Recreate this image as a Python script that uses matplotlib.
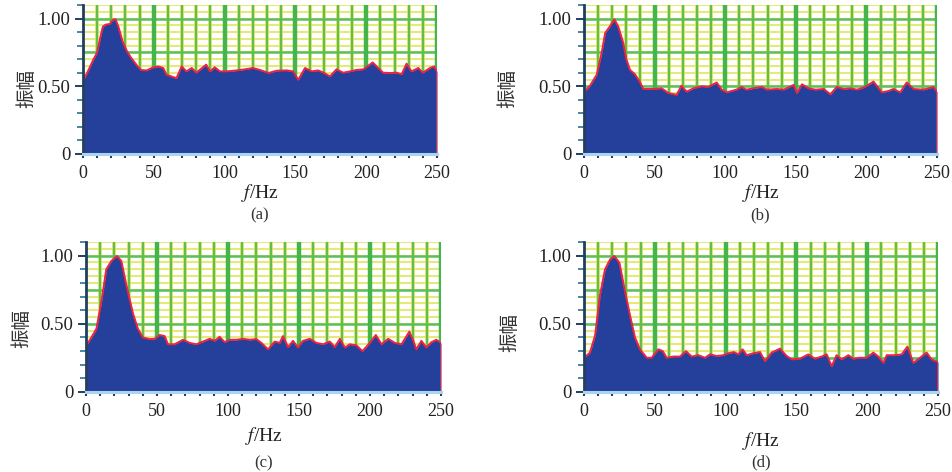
import numpy as np
import matplotlib
matplotlib.use("Agg")
import matplotlib.pyplot as plt
from matplotlib.ticker import MultipleLocator, FixedLocator

plt.rcParams['font.family'] = ['Liberation Serif', 'Noto Sans CJK SC', 'DejaVu Sans']
plt.rcParams['mathtext.fontset'] = 'stix'

# ---------------- data ----------------
freq_a = [0, 3, 7, 10, 12, 14, 16, 19, 21, 23, 25, 28, 31, 34, 38, 41, 45, 48.5, 53, 56.7,
          59, 66, 69.7, 73, 76.8, 80, 87, 89.7, 93, 96.7, 101.5, 108.5, 114.4, 120, 126,
          131, 136.8, 143.8, 148.5, 152, 156.8, 161.5, 166, 170, 174.4, 179, 183.8, 188.6,
          193, 198, 204.6, 208.5, 212, 216.8, 221.5, 225, 228.5, 232, 236.8, 240, 245, 248, 250]
amp_a = [0.54, 0.60, 0.69, 0.75, 0.85, 0.94, 0.955, 0.96, 0.99, 0.995, 0.94, 0.83, 0.76,
         0.71, 0.655, 0.62, 0.617, 0.635, 0.647, 0.635, 0.585, 0.56, 0.647, 0.61, 0.635,
         0.60, 0.66, 0.61, 0.64, 0.61, 0.61, 0.617, 0.625, 0.635, 0.617, 0.598, 0.615,
         0.617, 0.61, 0.548, 0.635, 0.61, 0.617, 0.60, 0.573, 0.625, 0.60, 0.61, 0.62,
         0.625, 0.676, 0.635, 0.60, 0.598, 0.60, 0.588, 0.667, 0.61, 0.635, 0.60, 0.635,
         0.647, 0.61]

freq_b = [0, 4, 9, 12.5, 15, 18.4, 21.5, 24.3, 27.8, 30, 32.6, 36, 39.7, 42, 49, 55, 59.7,
          65.6, 69, 72.7, 77.5, 83.4, 88, 94, 97.5, 101, 108, 111.6, 115, 120, 126, 129.5,
          136.6, 141.4, 148.5, 150.8, 154.4, 159, 164, 169.8, 174.5, 179, 184, 188.7,
          193.4, 199, 205, 211, 215.6, 219, 224, 228.5, 233.5, 240.5, 247.4, 250]
amp_b = [0.46, 0.50, 0.585, 0.746, 0.894, 0.943, 0.995, 0.94, 0.82, 0.70, 0.62, 0.59,
         0.53, 0.48, 0.48, 0.485, 0.45, 0.437, 0.504, 0.46, 0.485, 0.50, 0.495, 0.528,
         0.475, 0.455, 0.475, 0.495, 0.475, 0.485, 0.495, 0.475, 0.48, 0.475, 0.51, 0.45,
         0.515, 0.485, 0.475, 0.48, 0.44, 0.495, 0.48, 0.485, 0.475, 0.495, 0.535, 0.455,
         0.465, 0.48, 0.455, 0.528, 0.48, 0.475, 0.495, 0.46]

freq_c = [0, 3.8, 7.3, 10.8, 14.3, 17.8, 21.8, 24.9, 28.4, 33.1, 36.6, 40.1, 44.8, 48.4,
          51.9, 55.4, 57.7, 62.4, 68.3, 73, 77.7, 82.4, 87.1, 90.6, 94.1, 97.7, 101.2,
          105.9, 110.6, 115.3, 120, 123.5, 128.2, 132.9, 136.4, 138.7, 142.3, 145.8, 149.3,
          152.8, 157.6, 162.3, 167, 171.7, 175.2, 178.8, 182.3, 185.8, 190.5, 194.7, 199.9,
          204.1, 208.1, 212.8, 217.5, 222.2, 227.7, 230.3, 232.6, 236.2, 239.7, 243.2,
          246.7, 250]
amp_c = [0.338, 0.40, 0.463, 0.66, 0.90, 0.96, 0.998, 0.96, 0.786, 0.575, 0.463, 0.40,
         0.388, 0.39, 0.418, 0.41, 0.35, 0.35, 0.383, 0.36, 0.35, 0.37, 0.39, 0.375, 0.405,
         0.365, 0.383, 0.383, 0.39, 0.383, 0.388, 0.36, 0.313, 0.37, 0.36, 0.41, 0.33,
         0.375, 0.326, 0.375, 0.39, 0.36, 0.35, 0.37, 0.33, 0.39, 0.326, 0.35, 0.342, 0.30,
         0.36, 0.418, 0.35, 0.39, 0.36, 0.35, 0.443, 0.383, 0.313, 0.375, 0.326, 0.365,
         0.383, 0.36]

freq_d = [0, 4.2, 7.8, 11.3, 14.8, 18.4, 21.4, 25, 29, 32.5, 36, 39.5, 44.3, 47.8, 52.5,
          55.6, 58.4, 63.1, 67.8, 72, 76, 80.7, 85.5, 89, 93.7, 98.4, 101.9, 105.9, 109,
          112, 114.9, 119.6, 124.3, 127.8, 132.5, 138.4, 143.1, 146.7, 152.5, 158.4, 163.1,
          167.8, 171.4, 174.9, 178.4, 181.9, 186.7, 190.2, 194.9, 199.6, 204.3, 207.9,
          211.4, 213.8, 219.7, 224.4, 228.4, 232.6, 237.3, 242, 245.5, 250]
amp_d = [0.25, 0.289, 0.413, 0.711, 0.898, 0.972, 0.998, 0.948, 0.736, 0.562, 0.40,
         0.313, 0.251, 0.251, 0.313, 0.30, 0.251, 0.26, 0.26, 0.30, 0.26, 0.27, 0.251,
         0.276, 0.264, 0.27, 0.284, 0.293, 0.276, 0.313, 0.27, 0.284, 0.293, 0.226, 0.289,
         0.318, 0.264, 0.239, 0.244, 0.276, 0.244, 0.26, 0.276, 0.189, 0.27, 0.239, 0.27,
         0.244, 0.251, 0.251, 0.289, 0.26, 0.214, 0.27, 0.27, 0.276, 0.333, 0.214, 0.251,
         0.289, 0.239, 0.219]

captions = ["(a)", "(b)", "(c)", "(d)"]
xtick_labels = ["0", "50", "100", "150", "200", "250"]
ytick_labels = ["0", "0.50", "1.00"]
ylabel_text = "振幅"

# ---------------- drawing ----------------
fig = plt.figure(figsize=(9.52, 4.72), dpi=100)
W, H = 952, 472
boxes = [(83, 5, 437, 154), (584, 5, 937, 154), (86, 242, 441, 392), (584, 242, 938, 392)]
series = [(freq_a, amp_a), (freq_b, amp_b), (freq_c, amp_c), (freq_d, amp_d)]
xlabel_y = [193, 193, 436, 441]
cap_y = [215, 215, 463, 462]
ylab_xy = [(27, 88), (508, 88), (22, 328), (510, 333)]

FILL = '#25409A'
EDGE = '#EE2244'

for i, ((l, t, r, b), (fx, fy)) in enumerate(zip(boxes, series)):
    ax = fig.add_axes([l / W, 1 - b / H, (r - l) / W, (b - t) / H])
    ax.set_xlim(0, 250)
    ax.set_ylim(0, 1.10)
    # grid
    for yv in np.arange(0.05, 1.101, 0.05):
        ax.axhline(yv, color='#E4E97A', lw=1.5, zorder=0)
    for yv in [0.25, 0.5, 0.75, 1.0]:
        ax.axhline(yv, color='#5CBF5C', lw=1.8, zorder=0.2)
    for xv in range(10, 251, 10):
        if xv % 50 == 0:
            ax.axvline(xv, color='#45B549', lw=3.2, zorder=0.3)
        else:
            ax.axvline(xv, color='#D2E35E', lw=2.6, zorder=0.1)
            ax.axvline(xv, color='#62BD4A', lw=1.5, zorder=0.25)
    x = np.asarray(fx)
    y = np.asarray(fy)
    ax.fill_between(x, 0, y, color=FILL, zorder=1, lw=0)
    ax.plot(x, y, color=EDGE, lw=1.4, zorder=2)
    ax.plot([0, 0], [0, y[0]], color=EDGE, lw=2.0, zorder=2)
    ax.plot([250, 250], [0, y[-1]], color=EDGE, lw=2.0, zorder=2)

    for s in ['top', 'right']:
        ax.spines[s].set_visible(False)
    ax.spines['left'].set_color('#1F3F5F')
    ax.spines['left'].set_linewidth(2.0)
    ax.spines['bottom'].set_color('#A9D6EE')
    ax.spines['bottom'].set_linewidth(2.2)
    ax.spines['left'].set_zorder(3)
    ax.spines['bottom'].set_zorder(3)

    ax.xaxis.set_major_locator(FixedLocator([0, 50, 100, 150, 200, 250]))
    ax.set_xticklabels(xtick_labels)
    ax.xaxis.set_minor_locator(MultipleLocator(10))
    ax.yaxis.set_major_locator(FixedLocator([0, 0.5, 1.0]))
    ax.set_yticklabels(ytick_labels)
    ax.yaxis.set_minor_locator(MultipleLocator(0.1))
    ax.tick_params(axis='x', which='both', direction='out', length=3, width=1.5,
                   color='#1F3F5F', labelsize=13, pad=5, labelcolor='#222222')
    ax.tick_params(axis='y', which='major', direction='out', length=6, width=1.4,
                   color='#1F3F5F', labelsize=13.5, pad=3, labelcolor='#222222')
    ax.tick_params(axis='y', which='minor', direction='out', length=4, width=1.2,
                   color='#2F6F8F')
    ax.set_axisbelow(False)

    cx = (l + r) / 2 / W
    fig.text(cx, 1 - xlabel_y[i] / H, r'$f$/Hz', ha='center', va='center', fontsize=14,
             color='#222222')
    fig.text(cx, 1 - cap_y[i] / H, captions[i], ha='center', va='center', fontsize=12,
             color='#333333')
    lx, ly = ylab_xy[i]
    fig.text(lx / W, 1 - ly / H, ylabel_text, rotation=90,
             ha='center', va='center', fontsize=14, color='#333333',
             family=['Noto Sans CJK SC', 'DejaVu Sans'])

fig.savefig('out.png', dpi=100, facecolor='white')
